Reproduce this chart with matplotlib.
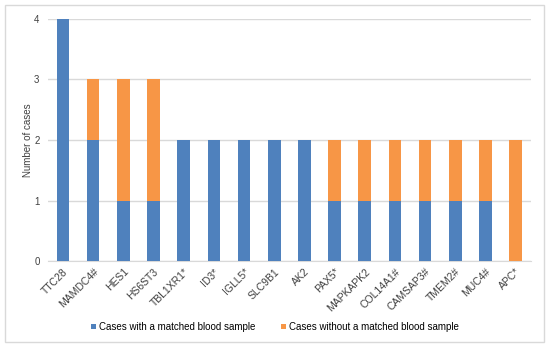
import matplotlib
matplotlib.use("Agg")
import matplotlib.pyplot as plt
from matplotlib.patches import Rectangle

plt.rcParams["font.family"] = ["Liberation Sans", "DejaVu Sans"]

genes = ["TTC28", "MAMDC4#", "HES1", "HS6ST3", "TBL1XR1*", "ID3*", "IGLL5*", "SLC9B1", "AK2",
         "PAX5*", "MAPKAPK2", "COL14A1#", "CAMSAP3#", "TMEM2#", "MUC4#", "APC*"]
with_blood = [4, 2, 1, 1, 2, 2, 2, 2, 2, 1, 1, 1, 1, 1, 1, 0]
without_blood = [0, 1, 2, 2, 0, 0, 0, 0, 0, 1, 1, 1, 1, 1, 1, 2]

blue = "#4F81BD"
orange = "#F79646"
txt = "#404040"

fig = plt.figure(figsize=(5.5, 3.5), dpi=100)
ax = fig.add_axes([0.087, 0.254, 0.878, 0.692])

x = range(len(genes))
ax.bar(x, with_blood, width=0.42, color=blue, label="Cases with a matched blood sample", zorder=3)
ax.bar(x, without_blood, width=0.42, bottom=with_blood, color=orange,
       label="Cases without a matched blood sample", zorder=3)

ax.set_ylim(0, 4)
ax.set_xlim(-0.5, len(genes) - 0.5)
ax.set_yticks([0, 1, 2, 3, 4])
ax.yaxis.grid(True, color="#D9D9D9", linewidth=1, zorder=0)
for s in ["top", "right", "left"]:
    ax.spines[s].set_visible(False)
ax.spines["bottom"].set_color("#D9D9D9")
ax.tick_params(axis="both", length=0, labelsize=7, colors=txt)
ax.tick_params(axis="y", pad=6)
ax.tick_params(axis="x", pad=4, labelsize=7.5)
ax.set_xticks(list(x))
ax.set_xticklabels(genes, rotation=45, ha="right", rotation_mode="anchor")
ax.set_ylabel("Number of cases", fontsize=7, color=txt, labelpad=1)

fig.legend(loc="center", bbox_to_anchor=(0.5, 0.066), ncol=2, fontsize=7, frameon=False,
           handlelength=0.55, handleheight=0.55, columnspacing=2.6, handletextpad=0.3)

fig.patches.append(Rectangle((0.009, 0.023), 0.98, 0.963, transform=fig.transFigure,
                             fill=False, edgecolor="#D9D9D9", linewidth=1))

fig.savefig("out.png", dpi=100)
